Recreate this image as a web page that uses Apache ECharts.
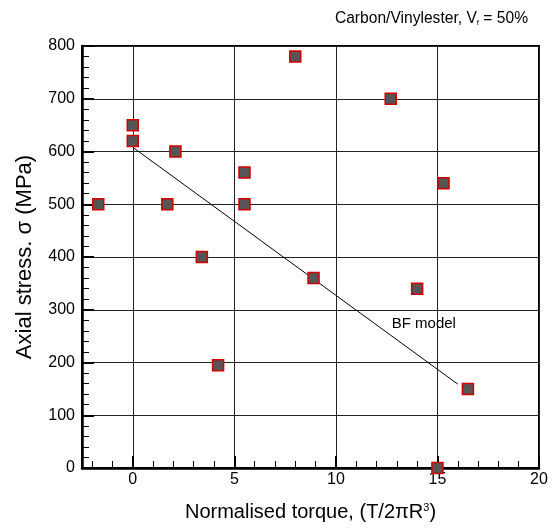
<!DOCTYPE html>
<html>
<head>
<meta charset="utf-8">
<script src="https://cdn.jsdelivr.net/npm/echarts@6/dist/echarts.min.js"></script>
<style>html,body{margin:0;padding:0;background:#fff;}#c{width:554px;height:529px;}</style>
</head>
<body>
<div id="c"></div>
<script>
// Measured data
var torque = [-1.7, 0, 0, 2.1, 1.7, 3.4, 4.2, 5.5, 5.5, 8.0, 8.9, 12.7, 14.0, 15.3, 16.5, 15.0];
var stress = [500, 650, 620, 600, 500, 400, 195, 560, 500, 780, 360, 700, 340, 540, 150, 0];
var bfModelX = [0, 16];
var bfModelY = [608, 159];
var bfLabelPos = [12.75, 274];
var bfLabelText = 'BF model';
var xTickLabels = ['0', '5', '10', '15', '20'];
var yTickLabels = ['0', '100', '200', '300', '400', '500', '600', '700', '800'];

var FONT = "'Liberation Sans', Arial, Helvetica, sans-serif";
var points = torque.map(function (x, i) { return [x, stress[i]]; });
var bfLine = bfModelX.map(function (x, i) { return [x, bfModelY[i]]; });

var chart = echarts.init(document.getElementById('c'), null, { renderer: 'canvas' });
chart.setOption({
  animation: false,
  backgroundColor: '#ffffff',
  title: {
    text: '{a|Carbon/Vinylester, V}{s|f}{a| = 50%}',
    right: 26,
    top: 11,
    padding: 0,
    textStyle: {
      fontWeight: 'normal',
      rich: {
        a: { fontFamily: FONT, fontSize: 15.6, fontWeight: 'normal', color: '#000' },
        s: { fontFamily: FONT, fontSize: 8, fontWeight: 'normal', color: '#000', verticalAlign: 'bottom', padding: [8, 0, 0, 0] }
      }
    }
  },
  grid: {
    left: 82, right: 15, top: 46, bottom: 61,
    show: true, borderColor: '#000', borderWidth: 2,
    containLabel: false,
    outerBoundsMode: 'none'
  },
  xAxis: {
    type: 'value',
    min: -2.5, max: 20,
    minInterval: 5, maxInterval: 5,
    name: 'Normalised torque, (T/2\u03c0R{sup|3})',
    nameLocation: 'middle',
    nameGap: 34,
    nameTextStyle: {
      fontFamily: FONT, fontSize: 20, color: '#000',
      rich: { sup: { fontFamily: FONT, fontSize: 11, color: '#000', verticalAlign: 'top', padding: [0, 0, 10, 0] } }
    },
    axisLine: { show: true, onZero: false, lineStyle: { color: '#000', width: 2.5 } },
    axisTick: { show: true, inside: true, length: 12, lineStyle: { color: '#000', width: 2 } },
    minorTick: { show: true, splitNumber: 5, length: 7, lineStyle: { color: '#000', width: 1 } },
    axisLabel: {
      fontFamily: FONT, fontSize: 16, color: '#000', margin: 4,
      showMinLabel: false,
      formatter: function (v) { var s = String(v); return xTickLabels.indexOf(s) >= 0 ? s : ''; }
    },
    splitLine: { show: true, lineStyle: { color: '#222', width: 1 } }
  },
  yAxis: {
    type: 'value',
    min: 0, max: 800, interval: 100,
    name: 'Axial stress. \u03c3 (MPa)',
    nameLocation: 'middle',
    nameGap: 46,
    nameTextStyle: { fontFamily: FONT, fontSize: 22, color: '#000' },
    axisLine: { show: true, onZero: false, lineStyle: { color: '#000', width: 2.5 } },
    axisTick: { show: true, inside: true, length: 12, lineStyle: { color: '#000', width: 2 } },
    minorTick: { show: true, splitNumber: 5, length: 7, lineStyle: { color: '#000', width: 1 } },
    axisLabel: {
      fontFamily: FONT, fontSize: 16, color: '#000', margin: 7,
      formatter: function (v) { var s = String(v); return yTickLabels.indexOf(s) >= 0 ? s : ''; }
    },
    splitLine: { show: true, lineStyle: { color: '#222', width: 1 } }
  },
  series: [
    {
      type: 'line',
      data: bfLine,
      symbol: 'none',
      lineStyle: { color: '#000', width: 1 },
      z: 2,
      markPoint: {
        symbol: 'circle',
        symbolSize: 0,
        data: [{ coord: bfLabelPos, value: bfLabelText }],
        label: {
          show: true, position: 'inside', align: 'left', verticalAlign: 'middle',
          formatter: bfLabelText,
          fontFamily: FONT, fontSize: 15, color: '#000'
        }
      }
    },
    {
      type: 'scatter',
      data: points,
      symbol: 'rect',
      symbolSize: 11,
      clip: false,
      itemStyle: { color: '#555555', borderColor: '#d40000', borderWidth: 1.5, opacity: 1 },
      z: 3
    }
  ]
});
</script>
</body>
</html>
